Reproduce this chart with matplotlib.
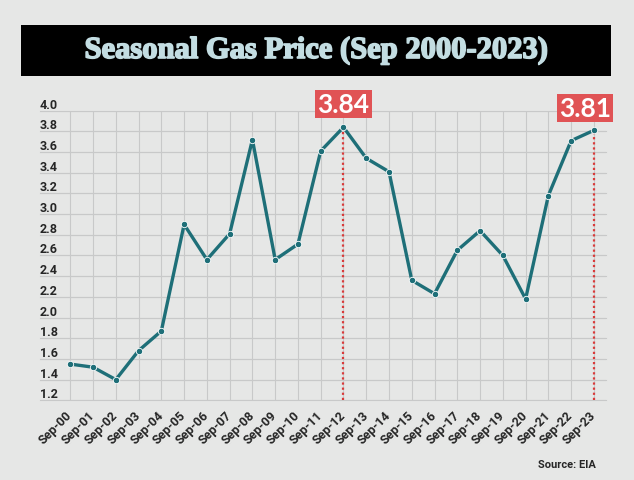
import matplotlib
matplotlib.use("Agg")
import matplotlib.pyplot as plt
import matplotlib.patheffects as pe
from matplotlib.patches import Rectangle
from matplotlib.transforms import blended_transform_factory

# data
months = ['Sep-00', 'Sep-01', 'Sep-02', 'Sep-03', 'Sep-04', 'Sep-05', 'Sep-06',
          'Sep-07', 'Sep-08', 'Sep-09', 'Sep-10', 'Sep-11', 'Sep-12', 'Sep-13',
          'Sep-14', 'Sep-15', 'Sep-16', 'Sep-17', 'Sep-18', 'Sep-19', 'Sep-20',
          'Sep-21', 'Sep-22', 'Sep-23']
prices = [1.55, 1.52, 1.40, 1.68, 1.87, 2.90, 2.56, 2.81, 3.72, 2.56, 2.71, 3.61,
          3.84, 3.54, 3.41, 2.36, 2.23, 2.65, 2.84, 2.60, 2.18, 3.18, 3.71, 3.81]
y_ticks = [1.2, 1.4, 1.6, 1.8, 2.0, 2.2, 2.4, 2.6, 2.8, 3.0, 3.2, 3.4, 3.6, 3.8, 4.0]
highlight = ['Sep-12', 'Sep-23']

title = 'Seasonal Gas Price (Sep 2000-2023)'
source = 'Source: EIA'

bg = '#e6e7e6'
teal = '#1e6f78'
red = '#e05355'
grid_col = '#c8c9c9'
txt_col = '#262626'

plt.rcParams['font.family'] = ['Roboto', 'DejaVu Sans']

fig = plt.figure(figsize=(6.34, 4.81), dpi=100)
fig.patch.set_facecolor(bg)

# title banner
fig.patches.append(Rectangle((0.0315, 0.8393), 0.9322, 0.1087, transform=fig.transFigure,
                             facecolor='black', edgecolor='white', linewidth=0.6, zorder=0))
t = fig.text(0.4976, 0.893, title, ha='center', va='center', color='#c3dde2',
             fontsize=22, fontweight='bold', family=['Liberation Serif', 'DejaVu Serif'])
t.set_path_effects([pe.Stroke(linewidth=1.2, foreground='#c3dde2'), pe.Normal()])

ax = fig.add_axes([0.0631, 0.1657, 0.8927, 0.6021])
ax.set_facecolor(bg)
x = list(range(len(months)))

ax.plot(x, prices, color=teal, lw=2.4, zorder=3, solid_capstyle='round')
ax.plot(x, prices, 'o', ms=4.6, mfc=teal, mec='white', mew=0.6, zorder=4)

ax.set_xlim(-1.33, 23.53)
ax.set_ylim(1.2, 4.0)
ax.set_xticks(x)
ax.set_xticklabels(months, rotation=45, ha='right', va='center', rotation_mode='anchor',
                   fontsize=9, color=txt_col, fontweight='bold')
ax.tick_params(axis='x', length=0, pad=9)
ax.set_yticks(y_ticks)
ax.tick_params(axis='y', length=0, labelleft=False)
ax.grid(True, color=grid_col, lw=0.8, zorder=0)
for s in ax.spines.values():
    s.set_visible(False)

# y labels sit above the grid lines at the left edge
tr = blended_transform_factory(ax.transAxes, ax.transData)
for v in y_ticks:
    ax.text(0.0, v, f'{v:.1f}', transform=tr, ha='left', va='bottom', fontsize=9,
            color=txt_col, fontweight='bold')
    ax.axhline(v, color=grid_col, lw=0.8, zorder=0, clip_on=False)

# highlighted values
offsets = {'Sep-12': (0, 16.5), 'Sep-23': (-6.5, 16)}
for m in highlight:
    i = months.index(m)
    v = prices[i]
    ax.plot([i, i], [1.2, v], color='#d93a3a', lw=1.6, ls=(0, (1, 1.3)), zorder=2)
    ax.annotate(f'{v:.2f}', xy=(i, v), xytext=offsets[m], textcoords='offset points',
                ha='center', va='center', fontsize=19, color='white', fontweight='bold',
                family=['Lato', 'DejaVu Sans'],
                bbox=dict(boxstyle='square,pad=0.08', fc=red, ec='none'), zorder=5)

fig.text(0.940, 0.0333, source, ha='right', va='center', fontsize=8,
         fontweight='bold', color=txt_col)

fig.savefig('out.png', dpi=100, facecolor=bg)
